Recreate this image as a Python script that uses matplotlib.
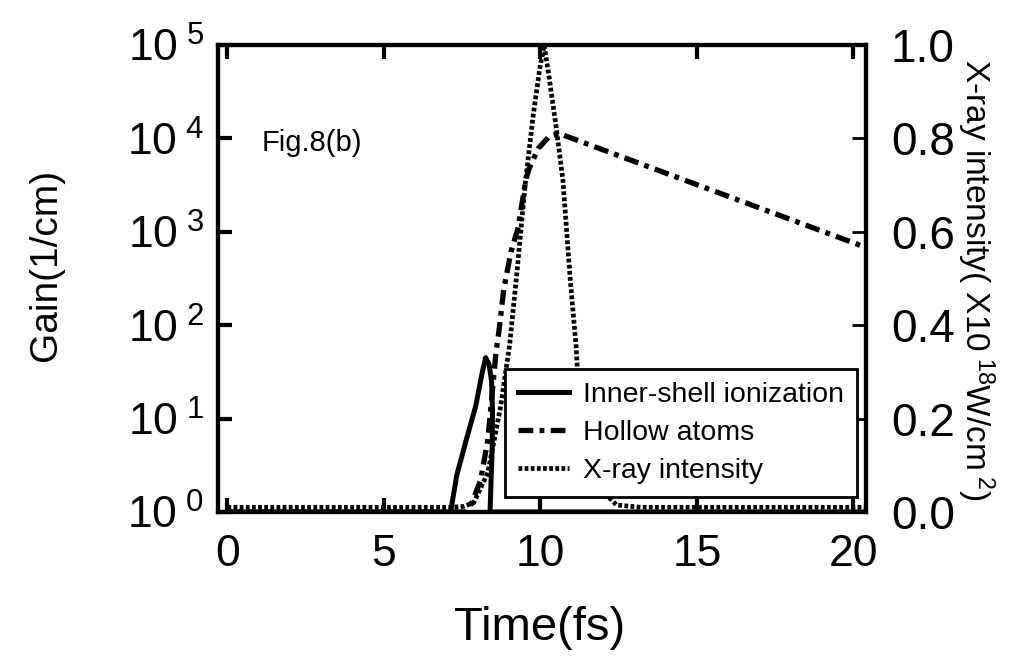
import numpy as np
import matplotlib
matplotlib.use('Agg')
import matplotlib.pyplot as plt
from matplotlib.ticker import FixedLocator, FixedFormatter

plt.rcParams['font.family'] = ['Liberation Sans', 'DejaVu Sans']
plt.rcParams['mathtext.fontset'] = 'custom'
plt.rcParams['mathtext.rm'] = 'Liberation Sans'
plt.rcParams['mathtext.it'] = 'Liberation Sans'

# Inner-shell ionization gain (1/cm)
time_inner = [0, 7.13, 7.33, 7.63, 7.93, 8.14, 8.25, 8.36, 8.44, 8.47, 8.46, 8.42, 8.39, 20.4]
gain_inner = [1, 1.0, 2.5, 5.9, 13.5, 31, 45, 38, 25, 12, 5, 2, 1, 1]

# Hollow atoms gain (1/cm)
time_hollow = [0, 7.63, 7.83, 8.09, 8.32, 8.58, 8.67, 8.83, 9.06, 9.28, 9.54, 9.64, 9.93, 10.28, 10.59, 20.4]
gain_hollow = [1, 1, 1.3, 2.2, 5.9, 51, 84, 245, 610, 1080, 3700, 4770, 7800, 10500, 11300, 680]

# X-ray intensity (x10^18 W/cm^2)
time_xray = [0, 7.13, 7.54, 7.87, 8.32, 8.73, 9.02, 9.26, 9.51, 9.77, 9.98, 10.12, 10.28, 10.49,
             10.72, 10.95, 11.14, 11.2, 11.51, 11.92, 12.43, 13.24, 20.4]
int_xray = [0.01, 0.01, 0.012, 0.02, 0.084, 0.226, 0.36, 0.52, 0.70, 0.85, 0.95, 1.0, 0.93, 0.83,
            0.71, 0.5, 0.355, 0.28, 0.13, 0.05, 0.015, 0.01, 0.01]

gain_ticks = [1, 10, 100, 1000, 10000, 100000]
gain_labels = [r'$\mathrm{10}^{\ %d}$' % k for k in range(6)]
time_ticks = [0, 5, 10, 15, 20]
int_ticks = [0.0, 0.2, 0.4, 0.6, 0.8, 1.0]

fig = plt.figure(figsize=(10.26, 6.57), dpi=100)
ax = fig.add_axes([0.2125, 0.2207, 0.6315, 0.7108])
ax2 = ax.twinx()

l1, = ax.plot(time_inner, gain_inner, color='black', lw=3.6, solid_joinstyle='round')
l2, = ax.plot(time_hollow, gain_hollow, color='black', lw=3.8, linestyle=(0, (2.8, 1.2, 0.9, 1.2)))
l3, = ax2.plot(time_xray, int_xray, color='black', lw=3.4, linestyle=(0, (0.8, 0.5)))

ax.set_yscale('log')
ax.set_ylim(1, 1e5)
ax.set_xlim(-0.3, 20.4)
ax2.set_ylim(0, 1.0)

ax.yaxis.set_major_locator(FixedLocator(gain_ticks))
ax.yaxis.set_major_formatter(FixedFormatter(gain_labels))
ax.yaxis.set_minor_locator(FixedLocator([]))
ax.set_xticks(time_ticks)
ax.set_xticklabels([str(t) for t in time_ticks])
ax2.set_yticks(int_ticks)
ax2.set_yticklabels(['%.1f' % v for v in int_ticks])

ax.tick_params(axis='both', which='major', direction='in', length=10, width=3,
               labelsize=32, top=True, right=False)
ax.tick_params(axis='x', pad=16)
ax.tick_params(axis='y', pad=10)
ax2.tick_params(axis='y', direction='in', length=10, width=2, labelsize=33, pad=18)

for a in (ax, ax2):
    for s in a.spines.values():
        s.set_linewidth(3)

ax.set_xlabel('Time(fs)', fontsize=34, va='center')
ax.xaxis.set_label_coords(0.497, -0.248)
ax.set_ylabel('Gain(1/cm)', fontsize=28, va='center')
ax.yaxis.set_label_coords(-0.265, 0.53)
ax2.set_ylabel(r'X-ray intensity( X10$^{\ 18}$W/cm$^{\ 2}$)', fontsize=24,
               rotation=-90, va='center')
ax2.yaxis.set_label_coords(1.17, 0.497)

ax.text(1.1, 7400, 'Fig.8(b)', fontsize=21, va='baseline')

leg = ax2.legend([l1, l2, l3], ['Inner-shell ionization', 'Hollow atoms', 'X-ray intensity'],
                 loc='lower right', bbox_to_anchor=(0.995, 0.02), fontsize=20.5,
                 frameon=True, fancybox=False, framealpha=1, edgecolor='black',
                 handlelength=1.8, handletextpad=0.5, borderpad=0.45, labelspacing=0.42,
                 borderaxespad=0.2)
leg.get_frame().set_linewidth(2)

fig.savefig('out.png', dpi=100)
